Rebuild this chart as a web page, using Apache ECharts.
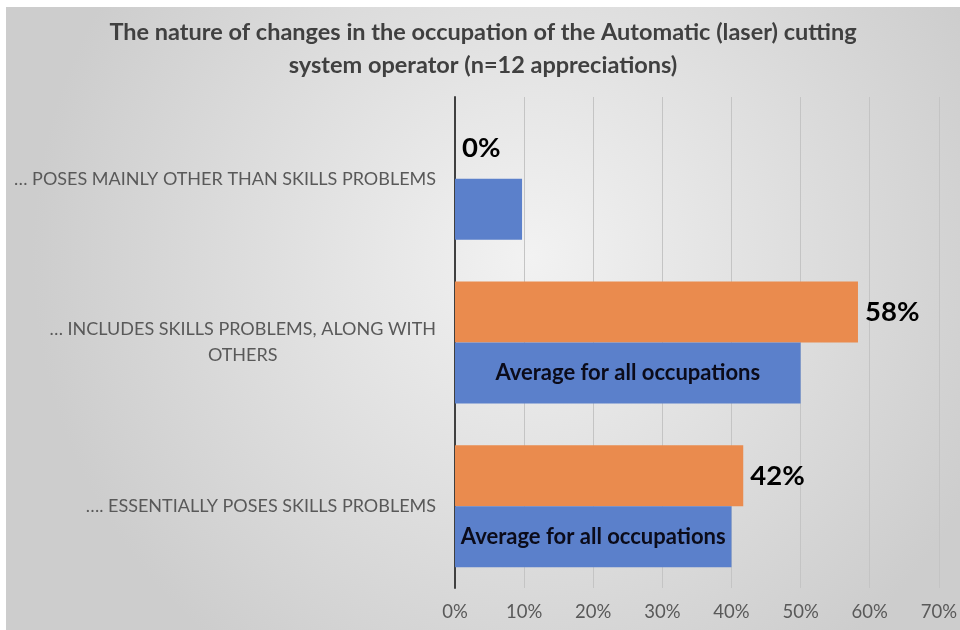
<!DOCTYPE html>
<html>
<head>
<meta charset="utf-8">
<script src="https://cdn.jsdelivr.net/npm/echarts@6/dist/echarts.min.js"></script>
<style>
  html, body { margin: 0; padding: 0; background: #ffffff; width: 960px; height: 630px; overflow: hidden; }
  #chart { position: absolute; left: 6px; top: 7px; width: 954px; height: 623px; }
</style>
</head>
<body>
<div id="chart"></div>
<script>
const titleText = 'The nature of changes in the occupation of the Automatic (laser) cutting\nsystem operator (n=12 appreciations)';
const categories = [
  '…. ESSENTIALLY POSES SKILLS PROBLEMS',
  '… INCLUDES SKILLS PROBLEMS, ALONG WITH\nOTHERS',
  '… POSES MAINLY OTHER THAN SKILLS PROBLEMS'
];
const occupationValues = [41.7, 58.3, 0];
const averageValues = [40.0, 50.0, 9.7];
const averageLabels = ['Average for all occupations', 'Average for all occupations', ''];
const xTicks = [0, 10, 20, 30, 40, 50, 60, 70];

const FONT = 'Lato';
const chart = echarts.init(document.getElementById('chart'), null, { renderer: 'canvas' });

chart.setOption({
  animation: false,
  backgroundColor: {
    type: 'radial', x: 0.55, y: 0.4, r: 0.8,
    colorStops: [
      { offset: 0, color: '#f2f2f2' },
      { offset: 1, color: '#cdcdcd' }
    ]
  },
  title: {
    text: titleText,
    left: 'center',
    top: 4,
    textStyle: { fontFamily: FONT, fontSize: 23.5, fontWeight: 'bold', color: '#404040', lineHeight: 33 }
  },
  grid: { left: 449, right: 21, top: 90, bottom: 42, containLabel: false },
  xAxis: {
    type: 'value',
    min: xTicks[0],
    max: xTicks[xTicks.length - 1],
    interval: 10,
    axisLine: { show: false },
    axisTick: { show: false },
    splitLine: { show: true, lineStyle: { color: '#c4c4c4', width: 1 } },
    axisLabel: { formatter: v => v + '%', fontFamily: FONT, fontSize: 18.5, color: '#595959', margin: 15 }
  },
  yAxis: {
    type: 'category',
    data: categories,
    axisLine: { show: true, lineStyle: { color: '#404040', width: 2 } },
    axisTick: { show: false },
    axisLabel: {
      fontFamily: FONT, fontSize: 18, color: '#595959', margin: 19, lineHeight: 26,
      formatter: v => v.split('\n').map(s => '{c|' + s + '}').join('\n'),
      rich: { c: { align: 'center', fontFamily: FONT, fontSize: 18, color: '#595959', lineHeight: 26 } }
    }
  },
  series: [
    {
      name: 'Occupation',
      type: 'bar',
      data: occupationValues,
      barGap: '0%',
      barCategoryGap: '25.5%',
      itemStyle: { color: '#EA8B4E' },
      label: {
        show: true, position: 'right', distance: 7,
        formatter: p => Math.round(p.value) + '%',
        fontFamily: FONT, fontSize: 27.5, fontWeight: 'bold', color: '#000000'
      }
    },
    {
      name: 'Average',
      type: 'bar',
      data: averageValues.map((v, i) => ({
        value: v,
        label: { show: averageLabels[i] !== '' }
      })),
      barGap: '0%',
      barCategoryGap: '25.5%',
      itemStyle: { color: '#5B80CB' },
      label: {
        show: true, position: 'inside',
        formatter: p => averageLabels[p.dataIndex],
        fontFamily: FONT, fontSize: 22, fontWeight: 'bold', color: '#0b0b1a'
      }
    }
  ]
});
</script>
</body>
</html>
